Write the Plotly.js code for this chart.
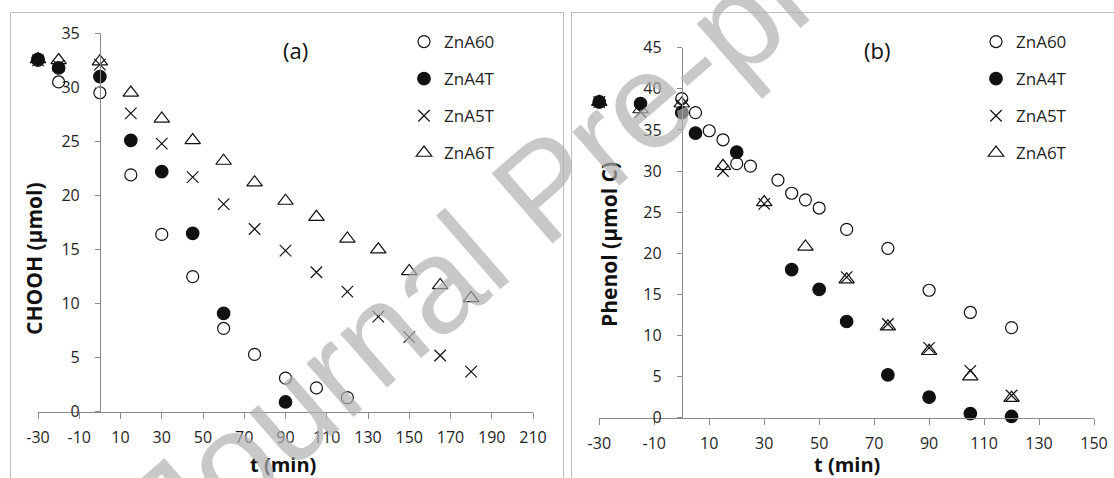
<!DOCTYPE html>
<html><head><meta charset="utf-8">
<script src="https://cdn.plot.ly/plotly-3.0.1.min.js"></script>
<style>html,body{margin:0;padding:0;background:#fff}#chart{width:1114px;height:478px}</style>
</head><body><div id="chart"></div>
<script>
// ---------- data ----------
const seriesNames = ['ZnA60', 'ZnA4T', 'ZnA5T', 'ZnA6T'];

// Panel (a): CHOOH (µmol) vs t (min)
const tA_ZnA60 = [-30, -20, 0, 15, 30, 45, 60, 75, 90, 105, 120];
const chooh_ZnA60 = [32.5, 30.5, 29.5, 21.9, 16.4, 12.5, 7.7, 5.3, 3.1, 2.2, 1.3];
const tA_ZnA4T = [-30, -20, 0, 15, 30, 45, 60, 90];
const chooh_ZnA4T = [32.6, 31.8, 31.0, 25.1, 22.2, 16.5, 9.1, 0.9];
const tA_ZnA5T = [-30, -20, 0, 15, 30, 45, 60, 75, 90, 105, 120, 135, 150, 165, 180];
const chooh_ZnA5T = [32.5, 32.0, 32.1, 27.6, 24.8, 21.7, 19.2, 16.9, 14.9, 12.9, 11.1, 8.8, 6.9, 5.2, 3.7];
const tA_ZnA6T = [-30, -20, 0, 15, 30, 45, 60, 75, 90, 105, 120, 135, 150, 165, 180];
const chooh_ZnA6T = [32.6, 32.5, 32.4, 29.5, 27.1, 25.1, 23.2, 21.2, 19.5, 18.0, 16.0, 15.0, 13.0, 11.7, 10.5];

// Panel (b): Phenol (µmol C) vs t (min)
const tB_ZnA60 = [-30, 0, 5, 10, 15, 20, 25, 35, 40, 45, 50, 60, 75, 90, 105, 120];
const phenol_ZnA60 = [38.4, 38.8, 37.1, 34.9, 33.8, 30.9, 30.6, 28.9, 27.3, 26.5, 25.5, 22.9, 20.6, 15.5, 12.8, 10.95];
const tB_ZnA4T = [-30, -15, 0, 5, 20, 40, 50, 60, 75, 90, 105, 120];
const phenol_ZnA4T = [38.4, 38.2, 37.1, 34.6, 32.3, 18.0, 15.6, 11.7, 5.2, 2.5, 0.5, 0.15];
const tB_ZnA5T = [-30, -15, 0, 15, 30, 60, 75, 90, 105, 120];
const phenol_ZnA5T = [38.4, 37.2, 38.0, 30.0, 26.0, 17.1, 11.4, 8.5, 5.7, 2.7];
const tB_ZnA6T = [-30, -15, 0, 15, 30, 45, 60, 75, 90, 105, 120];
const phenol_ZnA6T = [38.4, 37.5, 38.2, 30.6, 26.2, 20.8, 16.8, 11.1, 8.1, 5.0, 2.4];

const xTickA = [-30, -10, 10, 30, 50, 70, 90, 110, 130, 150, 170, 190, 210];
const xTickB = [-30, -10, 10, 30, 50, 70, 90, 110, 130, 150];
const yTickA = [0, 5, 10, 15, 20, 25, 30, 35];
const yTickB = [0, 5, 10, 15, 20, 25, 30, 35, 40, 45];

// ---------- styles ----------
const symbols = ['circle-open', 'circle', 'x-thin-open', 'triangle-up-open'];
const sizes = [12, 12.5, 11.5, 13.5];
const INK = '#111111';
const AXIS = '#8a8a8a';
const TXT = '#1f1f1f';
const FONT = 'Open Sans, Noto Sans, sans-serif';

const dataA = [[tA_ZnA60, chooh_ZnA60], [tA_ZnA4T, chooh_ZnA4T], [tA_ZnA5T, chooh_ZnA5T], [tA_ZnA6T, chooh_ZnA6T]];
const dataB = [[tB_ZnA60, phenol_ZnA60], [tB_ZnA4T, phenol_ZnA4T], [tB_ZnA5T, phenol_ZnA5T], [tB_ZnA6T, phenol_ZnA6T]];

function mk(i, xy, xa, ya, leg) {
  return {
    type: 'scatter', mode: 'markers', name: seriesNames[i],
    x: xy[0], y: xy[1], xaxis: xa, yaxis: ya,
    legend: leg, legendgroup: leg + i, cliponaxis: false,
    marker: { symbol: symbols[i], size: sizes[i], color: INK, line: { color: INK, width: 1.2 } },
    hoverinfo: 'x+y+name'
  };
}
const traces = [];
dataA.forEach((d, i) => traces.push(mk(i, d, 'x', 'y', 'legend')));
dataB.forEach((d, i) => traces.push(mk(i, d, 'x2', 'y2', 'legend2')));

const W = 1114, H = 478;
const px = v => v / W, py = v => 1 - v / H;

function xax(domain, range, ticks, anchor) {
  return {
    domain: domain, range: range, anchor: anchor,
    tickmode: 'array', tickvals: ticks, ticktext: ticks.map(String),
    showline: true, linecolor: AXIS, linewidth: 1,
    ticks: 'outside', ticklen: 6, tickcolor: AXIS, tickwidth: 1,
    showgrid: false, zeroline: false, ticklabelstandoff: 5,
    tickfont: { family: FONT, size: 16, color: TXT }, fixedrange: true
  };
}
function yax(domain, range, ticks, pos) {
  return {
    domain: domain, range: range, anchor: 'free', position: pos, side: 'left',
    tickmode: 'array', tickvals: ticks, ticktext: ticks.map(String),
    showline: true, linecolor: AXIS, linewidth: 1,
    ticks: 'outside', ticklen: 5, tickcolor: AXIS, tickwidth: 1,
    showgrid: false, zeroline: false, ticklabelstandoff: 12,
    tickfont: { family: FONT, size: 16, color: TXT }, fixedrange: true
  };
}
function leg(xPix) {
  return {
    x: px(xPix), y: py(24), xanchor: 'left', yanchor: 'top',
    traceorder: 'grouped', tracegroupgap: 12, itemsizing: 'trace',
    bgcolor: 'rgba(0,0,0,0)', borderwidth: 0,
    font: { family: FONT, size: 17, color: TXT }
  };
}
function ann(text, x, y, size, extra) {
  return Object.assign({
    text: text, xref: 'paper', yref: 'paper', x: px(x), y: py(y),
    xanchor: 'center', yanchor: 'middle', showarrow: false,
    font: { family: FONT, size: size, color: '#111' }
  }, extra || {});
}

const layout = {
  width: W, height: H, margin: { l: 0, r: 0, t: 0, b: 0 },
  paper_bgcolor: '#ffffff', plot_bgcolor: 'rgba(0,0,0,0)',
  font: { family: FONT, size: 16, color: TXT },
  showlegend: true,
  xaxis: xax([px(38), px(533)], [-30, 210], xTickA, 'y'),
  yaxis: yax([1 - 411.7 / H, 1 - 33.3 / H], [0, 35], yTickA, px(99.9)),
  xaxis2: xax([px(599.3), px(1094)], [-30, 150], xTickB, 'y2'),
  yaxis2: yax([1 - 417.7 / H, 1 - 47.7 / H], [0, 45], yTickB, px(681.8)),
  legend: leg(404),
  legend2: leg(976),
  shapes: [
    { type: 'rect', xref: 'paper', yref: 'paper', x0: px(10.5), x1: px(563.5), y0: -0.2, y1: py(12.5),
      line: { color: '#bdbdbd', width: 1 }, fillcolor: 'rgba(0,0,0,0)', layer: 'below' },
    { type: 'rect', xref: 'paper', yref: 'paper', x0: px(571.5), x1: 1.05, y0: -0.2, y1: py(12.5),
      line: { color: '#bdbdbd', width: 1 }, fillcolor: 'rgba(0,0,0,0)', layer: 'below' }
  ],
  annotations: [
    ann('(a)', 295, 50, 22),
    ann('(b)', 877, 50, 22),
    ann('<b>CHOOH (µmol)</b>', 34, 259, 21, { textangle: -90 }),
    ann('<b>Phenol (µmol C)</b>', 609, 245, 21, { textangle: -90 }),
    ann('<b>t (min)</b>', 283, 464, 20),
    ann('<b>t (min)</b>', 847, 464, 20),
    ann('Journal Pre-proof', 545, 188, 135, { textangle: -41,
      font: { family: 'Liberation Sans, Arial, sans-serif', size: 135, color: 'rgba(175,175,175,0.69)' } })
  ]
};

Plotly.newPlot('chart', traces, layout, { displayModeBar: false, staticPlot: true });
</script>
</body></html>
